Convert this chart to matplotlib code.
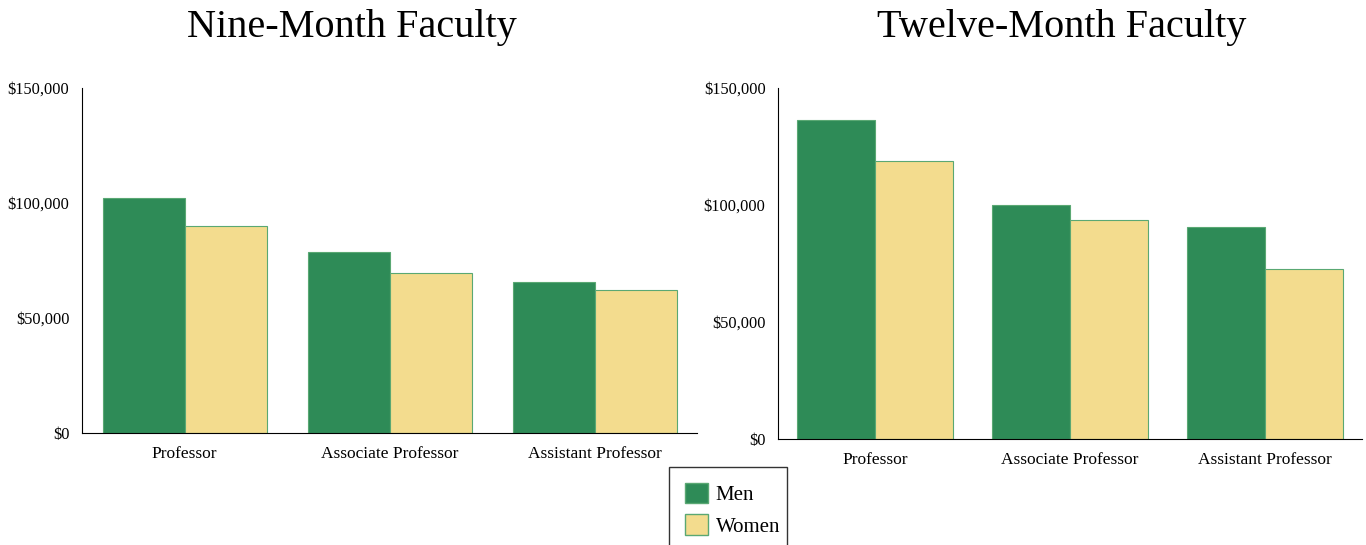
import numpy as np
import matplotlib.pyplot as plt
from matplotlib.ticker import FuncFormatter
from matplotlib.patches import Patch, Rectangle

plt.rcParams['font.family'] = ['Liberation Serif', 'DejaVu Serif']

ranks = ['Professor', 'Associate Professor', 'Assistant Professor']
nine_men = [102200, 78700, 65700]
nine_women = [90000, 69600, 62200]
twelve_men = [136300, 99800, 90600]
twelve_women = [118800, 93600, 72600]

GREEN = '#2e8b57'
YELLOW = '#f3dc8e'
EDGE = '#5aa873'


def money(v, pos):
    return '${:,.0f}'.format(v)


def draw(ax, men, women):
    x = np.arange(len(ranks))
    w = 0.4
    ax.bar(x - w/2, men, w, color=GREEN, edgecolor=EDGE, linewidth=0.8)
    ax.bar(x + w/2, women, w, color=YELLOW, edgecolor=EDGE, linewidth=0.8)
    ax.set_xticks(x)
    ax.set_xticklabels(ranks)
    ax.set_xlim(-0.5, 2.5)
    ax.set_ylim(0, 150000)
    ax.set_yticks([0, 50000, 100000, 150000])
    ax.yaxis.set_major_formatter(FuncFormatter(money))
    ax.tick_params(axis='both', length=0)
    ax.tick_params(axis='x', pad=9, labelsize=12.5)
    ax.tick_params(axis='y', pad=9, labelsize=11.8)
    ax.spines['top'].set_visible(False)
    ax.spines['right'].set_visible(False)


fig = plt.figure(figsize=(13.66, 5.45), dpi=100)
ax1 = fig.add_axes([82/1366, 1 - 433/545, (697-82)/1366, (433-88)/545])
ax2 = fig.add_axes([778/1366, 1 - 439/545, (1362-778)/1366, (439-88)/545])

draw(ax1, nine_men, nine_women)
draw(ax2, twelve_men, twelve_women)

fig.text(352/1366, 1 - 27/545, 'Nine-Month Faculty', fontsize=29,
         ha='center', va='center')
fig.text(1062/1366, 1 - 27/545, 'Twelve-Month Faculty', fontsize=29,
         ha='center', va='center')

# legend box drawn separately so the padding can be uneven like the original
fig.patches.append(Rectangle((669/1366, -0.01), (787-669)/1366, 1 - 467/545 + 0.01,
                             transform=fig.transFigure, facecolor='white',
                             edgecolor='#333333', linewidth=1, zorder=0))
handles = [Patch(facecolor=GREEN, edgecolor=EDGE, label='Men'),
           Patch(facecolor=YELLOW, edgecolor=EDGE, label='Women')]
leg = fig.legend(handles=handles, loc='upper left',
                 bbox_to_anchor=(669/1366, 1 - 467/545), borderaxespad=0,
                 fontsize=15, frameon=False,
                 handlelength=1.1, handleheight=1.15, handletextpad=0.4,
                 labelspacing=0.45, borderpad=0.75)

fig.savefig('out.png', dpi=100)
